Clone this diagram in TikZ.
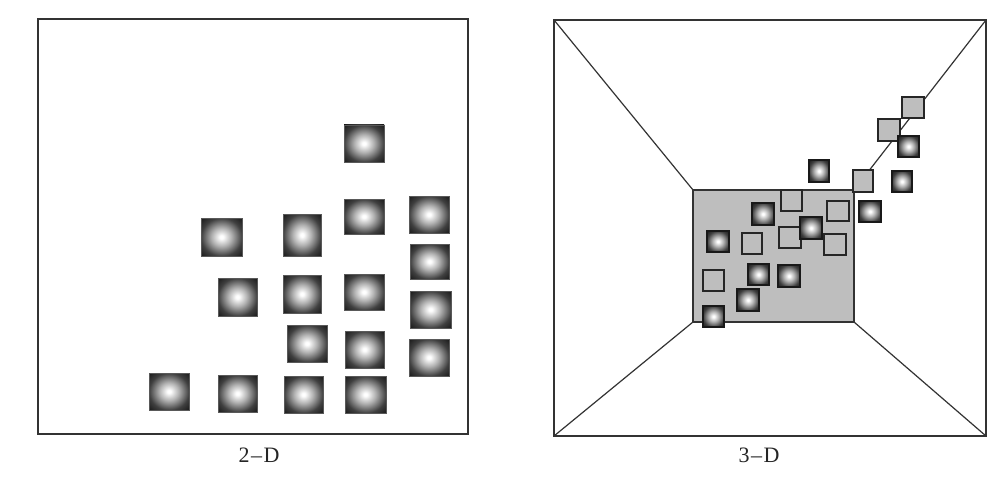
\documentclass[tikz,border=0pt]{standalone}
\usepackage{fontspec}
\newfontfamily\capfont[Ligatures=TeX]{Liberation Serif}
\usetikzlibrary{shadings}
\pgfdeclareradialshading{cubeglow}{\pgfpoint{0bp}{0bp}}{%
  color(0bp)=(white); color(2bp)=(white); color(12bp)=(black!30);
  color(25bp)=(black!75); color(35.4bp)=(black!90); color(50bp)=(black!90)}
\definecolor{framecol}{HTML}{333333}
\definecolor{backwall}{HTML}{BEBEBE}
\tikzset{
  frame2d/.style={draw=framecol, line width=1.1pt},
  frame3d/.style={draw=framecol, line width=1.2pt},
  cubeA/.style={shade, shading=cubeglow, draw=black!65, line width=0.5pt},
  cubeB/.style={shade, shading=cubeglow, draw=black!90, line width=1.1pt},
  ghost/.style={fill=backwall, draw=black!85, line width=1.1pt},
  wall/.style={fill=backwall, draw=framecol, line width=1.2pt},
  caption/.style={font=\capfont\fontsize{22}{24}\selectfont, inner sep=0pt, text=black!85}
}
\begin{document}
\begin{tikzpicture}[x=1pt,y=-1pt]
\useasboundingbox (0,0) rectangle (1007,492);
\fill[white] (0,0) rectangle (1007,492);

% ---------- 2-D panel ----------
\draw[frame2d] (38,19) rectangle (468,434);
\foreach \xa/\ya/\xb/\yb in {
  344/125/384/162, 344/199/384/234, 409/196/449/233,
  201/218/242/256, 283/214/321/256, 410/244/449/279,
  218/278/257/316, 283/275/321/313, 344/274/384/310,
  410/291/451/328, 287/325/327/362, 345/331/384/368,
  409/339/449/376, 149/373/189/410, 218/375/257/412,
  284/376/323/413, 345/376/386/413}
  \path[cubeA] (\xa,\ya) rectangle (\xb,\yb);
\node[caption] (lab2) at (259,455) {2\kern1.5pt–\kern1.5pt D};

% ---------- 3-D panel ----------
\coordinate (otl) at (554,20);
\coordinate (otr) at (986,20);
\coordinate (obr) at (986,436);
\coordinate (obl) at (554,436);
\coordinate (itl) at (693,190);
\coordinate (itr) at (854,190);
\coordinate (ibr) at (854,322);
\coordinate (ibl) at (693,322);
\draw[frame3d] (otl) rectangle (obr);
\draw[wall] (itl) rectangle (ibr);
\draw[frame3d] (otl) -- (itl);
\draw[frame3d] (otr) -- (itr);
\draw[frame3d] (obl) -- (ibl);
\draw[frame3d] (obr) -- (ibr);

\foreach \xa/\ya/\xb/\yb in {
  902/97/924/118, 878/119/900/141, 853/170/873/192,
  781/190/802/211, 827/201/849/221, 742/233/762/254,
  779/227/801/248, 824/234/846/255, 703/270/724/291}
  \path[ghost] (\xa,\ya) rectangle (\xb,\yb);

\foreach \xa/\ya/\xb/\yb in {
  809/160/829/182, 898/136/919/157, 892/171/912/192,
  859/201/881/222, 752/203/774/225, 800/217/822/239,
  707/231/729/252, 748/264/769/285, 778/265/800/287,
  737/289/759/311, 703/306/724/327}
  \path[cubeB] (\xa,\ya) rectangle (\xb,\yb);

\node[caption] (lab3) at (759,455) {3\kern1.5pt–\kern1.5pt D};
\end{tikzpicture}
\end{document}
